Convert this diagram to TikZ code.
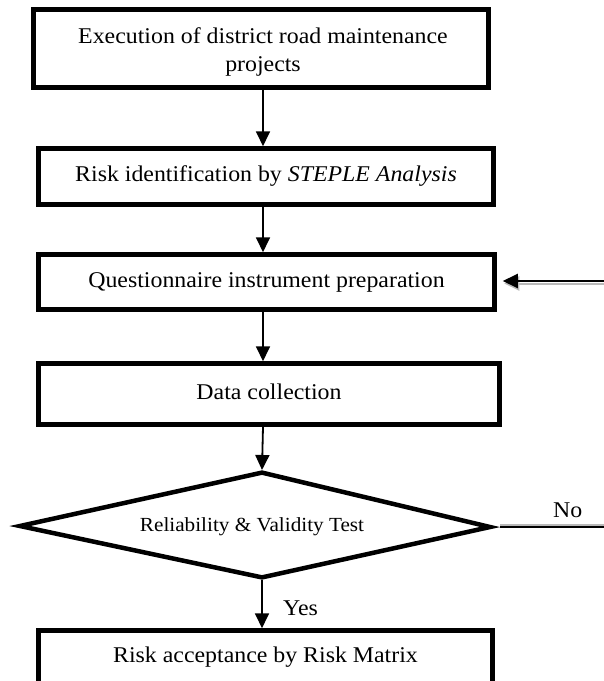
\documentclass[tikz,border=0pt]{standalone}
\usepackage{fontspec}
\setmainfont[FakeStretch=1.06]{Liberation Serif}
\usetikzlibrary{arrows.meta,calc}
\begin{document}
\begin{tikzpicture}[x=1pt,y=-1pt,
  stepbox/.style={draw=black,line width=4.5pt,fill=white,inner sep=0pt,
    font=\fontsize{22.5}{28}\selectfont,text height=15pt,text depth=5pt,align=center},
  boxtext/.style={font=\fontsize{22.5}{28}\selectfont,inner sep=0pt,align=center,anchor=base},
  arr/.style={line width=1.8pt,-{Triangle[width=14pt,length=15pt]}},
  shadowarr/.style={line width=2pt,draw=gray!55,-{Triangle[width=14pt,length=15pt,fill=gray!55]}},
  shadowline/.style={line width=2pt,draw=gray!55},
  blackline/.style={line width=2.2pt},
  dia/.style={draw=black,line width=4.5pt,line join=miter},
  lbl/.style={font=\fontsize{22.5}{28}\selectfont,inner sep=0pt,anchor=base west}]
\useasboundingbox (0,0) rectangle (604,681);
\clip (0,0) rectangle (604,681);
\fill[white] (0,0) rectangle (604,681);
\coordinate (col) at (263,0);
% boxes
\node[stepbox,minimum width=455pt,minimum height=78pt] (b1) at (261,48.5) {};
\node[boxtext] (b1text) at (263,71) {Execution of district road maintenance\\projects};
\node[stepbox,minimum width=455pt,minimum height=56pt] (b2) at (266,176.5)
  {Risk identification by \textit{STEPLE Analysis}};
\node[stepbox,minimum width=456pt,minimum height=55pt] (b3) at (266.5,282)
  {Questionnaire instrument preparation};
\node[stepbox,minimum width=461pt,minimum height=61pt] (b4) at (269,394)
  {Data collection};
\node[stepbox,minimum width=454pt,minimum height=53pt] (b5) at (265.5,657)
  {Risk acceptance by Risk Matrix};
% diamond
\coordinate (dL) at (20,526);
\coordinate (dT) at (262,472.6);
\coordinate (dR) at (490,527);
\coordinate (dB) at (262,577.4);
\coordinate (dTo) at (262,470);
\coordinate (dBo) at (262,580);
\coordinate (dRo) at (500,527);
\draw[dia,fill=white] (dL) -- (dT) -- (dR) -- (dB) -- cycle;
\node[font=\fontsize{20}{24}\selectfont,inner sep=0pt,anchor=base] (dtext) at (252,531) {Reliability \& Validity Test};
% vertical arrows
\draw[arr] (b1.south -| col) -- (b2.north -| col);
\draw[arr] (b2.south -| col) -- (b3.north -| col);
\draw[arr] (b3.south -| col) -- (b4.north -| col);
\draw[arr] (b4.south -| col) -- (dTo);
\draw[arr] (dBo) -- (b5.north -| dBo);
\node[lbl] (yes) at (283,615) {Yes};
% No branch
\coordinate (noEnd) at (606,527);
\draw[shadowline] ([yshift=2.5pt]dRo) -- ([yshift=2.5pt]noEnd);
\draw[blackline] (dRo) -- (noEnd);
\node[lbl] (no) at (553,517) {No};
% return arrow into b3
\coordinate (inR) at (606,281);
\draw[shadowarr,shorten >=6pt] ([shift={(1.5,2.5)}]inR) -- ([shift={(1.5,2.5)}]b3.east |- inR);
\draw[arr,line width=2pt,shorten >=6pt] (inR) -- (b3.east |- inR);
\end{tikzpicture}
\end{document}
